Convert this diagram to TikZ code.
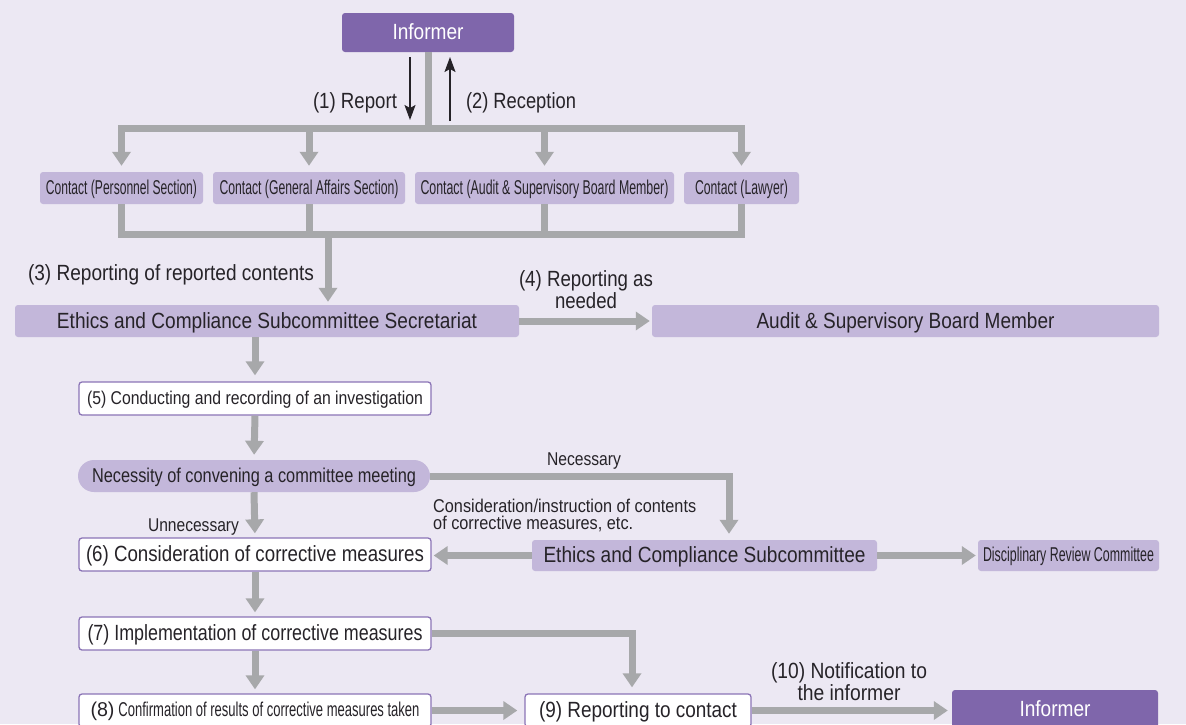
\documentclass[tikz,border=0pt]{standalone}
\usepackage{fontspec}
\setmainfont{Liberation Sans}
\usepackage{graphicx}
\usetikzlibrary{arrows.meta}

\definecolor{bg}{HTML}{ECE8F3}
\definecolor{dark}{HTML}{7F66AB}
\definecolor{light}{HTML}{C3B7DA}
\definecolor{edge}{HTML}{8B74B6}
\definecolor{wire}{HTML}{A7A8AA}
\definecolor{ink}{HTML}{262328}

% set a text horizontally condensed to a given width (in pt)
\newlength\fitlen
\newcommand\fitw[2]{\settowidth\fitlen{#2}\pgfmathsetmacro\fitratio{#1/\fitlen}\scalebox{\fitratio}[1]{#2}}

\tikzset{
  box/.style={rectangle, rounded corners=3pt, inner sep=0pt, text=ink},
  darkbox/.style={box, fill=dark, text=white},
  lightbox/.style={box, fill=light},
  whitebox/.style={box, fill=white, draw=edge, line width=1.3pt},
  pillbox/.style={box, fill=light, rounded corners=16pt},
  wireline/.style={draw=wire, line width=7pt},
  wirearrow/.style={draw=wire, line width=7pt, -{Triangle[width=18pt,length=14pt]}},
  thinarrow/.style={draw=ink, line width=1.4pt, -{Stealth[width=11pt,length=15pt,inset=3pt]}},
  lbl/.style={inner sep=0pt, text=ink},
  big/.style={font=\fontsize{22}{22}\selectfont},
  mid/.style={font=\fontsize{20}{20}\selectfont},
  small/.style={font=\fontsize{18.5}{18}\selectfont},
  % fixed strut so one-line texts sit at the same height
  bigline/.style={big, text height=19pt, text depth=5pt},
  midline/.style={mid, text height=17pt, text depth=4.5pt},
  smallline/.style={small, text height=16pt, text depth=4pt},
}

\begin{document}
\begin{tikzpicture}[x=1pt, y=-1pt]
\useasboundingbox (0,0) rectangle (1186,724);
\fill[bg] (0,0) rectangle (1186,724);
\clip (0,0) rectangle (1186,724);

% ---- boxes ----
\node[darkbox, bigline, minimum width=172pt, minimum height=39pt] (inf1) at (428,32.5) {\fitw{71}{Informer}};

\node[lightbox, midline, minimum width=163pt, minimum height=32pt] (c1) at (121.5,188) {\fitw{151}{Contact (Personnel Section)}};
\node[lightbox, midline, minimum width=192pt, minimum height=32pt] (c2) at (309,188) {\fitw{179}{Contact (General Affairs Section)}};
\node[lightbox, midline, minimum width=259pt, minimum height=32pt] (c3) at (544.5,188) {\fitw{248}{Contact (Audit \& Supervisory Board Member)}};
\node[lightbox, midline, minimum width=115pt, minimum height=32pt] (c4) at (741.5,188) {\fitw{93}{Contact (Lawyer)}};

\node[lightbox, bigline, minimum width=504pt, minimum height=32pt] (sec) at (267,321) {\fitw{420}{Ethics and Compliance Subcommittee Secretariat}};
\node[lightbox, bigline, minimum width=507pt, minimum height=32pt] (abm) at (905.5,321) {\fitw{298}{Audit \& Supervisory Board Member}};

\node[whitebox, smallline, minimum width=352pt, minimum height=33pt] (s5) at (255,398.5) {\fitw{336}{(5) Conducting and recording of an investigation}};
\node[pillbox, midline, minimum width=352pt, minimum height=32pt] (nec) at (254,476) {\fitw{324}{Necessity of convening a committee meeting}};
\node[whitebox, bigline, minimum width=352pt, minimum height=33pt] (s6) at (255,554.5) {\fitw{338}{(6) Consideration of corrective measures}};
\node[lightbox, bigline, minimum width=345pt, minimum height=31pt] (sub) at (704.5,555.5) {\fitw{322}{Ethics and Compliance Subcommittee}};
\node[lightbox, midline, minimum width=181pt, minimum height=31pt] (disc) at (1068.5,555.5) {\fitw{171}{Disciplinary Review Committee}};
\node[whitebox, bigline, minimum width=352pt, minimum height=33pt] (s7) at (255,633.5) {\fitw{335}{(7) Implementation of corrective measures}};
\node[whitebox, midline, minimum width=352pt, minimum height=33pt] (s8) at (255,710.5) {\fitw{24}{(8)}\hspace{4pt}\fitw{301}{Confirmation of results of corrective measures taken}};
\node[whitebox, bigline, minimum width=226pt, minimum height=33pt] (s9) at (638,710.5) {\fitw{198}{(9) Reporting to contact}};
\node[darkbox, bigline, minimum width=206pt, minimum height=39pt] (inf2) at (1055,709.5) {\fitw{71}{Informer}};

% ---- labels ----
\node[lbl, bigline] (l1) at (355,101) {\fitw{84}{(1) Report}};
\node[lbl, bigline] (l2) at (521,101) {\fitw{110}{(2) Reception}};
\node[lbl, bigline] (l3) at (171,273) {\fitw{286}{(3) Reporting of reported contents}};
\node[lbl, big, align=center] (l4) at (586,290) {\fitw{134}{(4) Reporting as}\\[0pt]\fitw{62}{needed}};
\node[lbl, smallline] (lnec) at (584,459) {\fitw{74}{Necessary}};
\node[lbl, smallline] (lunn) at (193.5,525) {\fitw{91}{Unnecessary}};
\node[lbl, small, align=left, anchor=west] (lcon) at (433,515) {\fitw{263}{Consideration/instruction of contents}\\[-1pt]\fitw{200}{of corrective measures, etc.}};
\node[lbl, big, align=center] (l10) at (849,681.5) {\fitw{156}{(10) Notification to}\\[0pt]\fitw{103}{the informer}};

% ---- thin arrows between informer and the contacts ----
\coordinate (repTop) at (410,57);
\coordinate (repTip) at (410,120);
\coordinate (recBot) at (450,121);
\coordinate (recTip) at (450,57);
\draw[thinarrow] (repTop) -- (repTip);
\draw[thinarrow] (recBot) -- (recTip);

% ---- wires ----
\coordinate (busT) at (428,128);
\draw[wireline] (inf1.south) -- (inf1.south |- busT);
\draw[wireline, line cap=rect] (c1.north |- busT) -- (c4.north |- busT);
\foreach \c in {c1,c2,c3,c4}
  \draw[wirearrow, shorten >=6pt] (\c.north |- busT) -- (\c.north);

\coordinate (busB) at (328,234);
\foreach \c in {c1,c2,c3,c4}
  \draw[wireline] (\c.south) -- (\c.south |- busB);
\draw[wireline, line cap=rect] (c1.south |- busB) -- (c4.south |- busB);
\draw[wirearrow, shorten >=3pt] (busB) -- (busB |- sec.north);

\draw[wirearrow, shorten >=2pt] (sec.east) -- (abm.west);
\draw[wirearrow, shorten >=6pt] (sec.south -| s5.north) -- (s5.north);
\draw[wirearrow, shorten >=5pt] (s5.south) -- (nec.north);
\draw[wirearrow, shorten >=4pt] (nec.south) -- (s6.north);

\coordinate (necx) at (729,476);
\draw[wirearrow, shorten >=6pt] (nec.east) -- (necx) -- (necx |- sub.north);
\draw[wirearrow, shorten >=2pt] (sub.west) -- (sub.west -| s6.east);
\draw[wirearrow, shorten >=2pt] (sub.east) -- (disc.west);

\draw[wirearrow, shorten >=4pt] (s6.south) -- (s7.north);
\coordinate (s7x) at (632,633.5);
\draw[wirearrow, shorten >=6pt] (s7.east) -- (s7x) -- (s7x |- s9.north);
\draw[wirearrow, shorten >=4pt] (s7.south) -- (s8.north);
\draw[wirearrow, shorten >=7pt] (s8.east) -- (s8.east -| s9.west);
\draw[wirearrow, shorten >=4pt] (s9.east) -- (s9.east -| inf2.west);
\end{tikzpicture}
\end{document}
